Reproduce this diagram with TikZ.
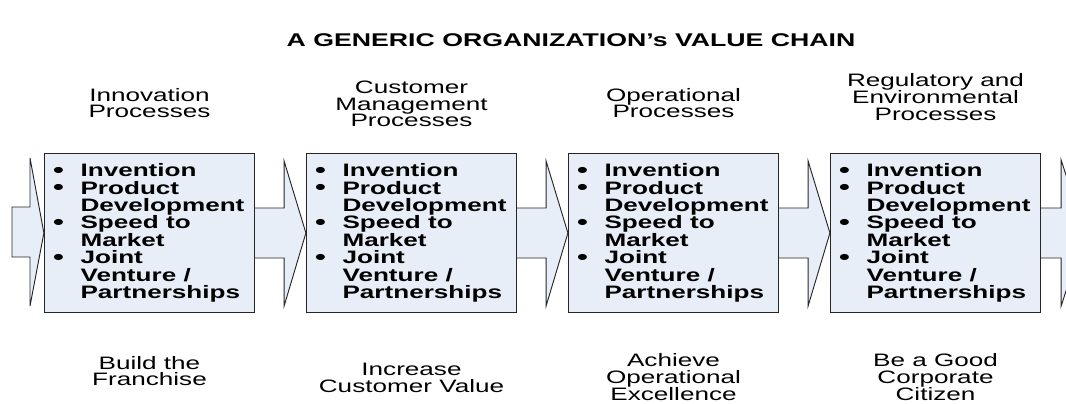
\documentclass[tikz,border=0pt]{standalone}
\usepackage{fontspec}
\setmainfont{Liberation Sans}[FakeStretch=1.45]
\usetikzlibrary{calc}
\definecolor{boxfill}{HTML}{E8EEF8}
\pgfdeclarelayer{bg}
\pgfsetlayers{bg,main}
\setlength{\lineskiplimit}{-10pt}
\newcommand\bl{\makebox[19.5pt][l]{\hspace{-1pt}\raisebox{-0.3pt}{\smash{\fontsize{16}{0}\selectfont\textbullet}}}}
\newcommand\ind{\hspace*{19.5pt}}
\newcommand\itemstext{\bl Invention\\ \bl Product\\ \ind Development\\ \bl Speed to\\ \ind Market\\ \bl Joint\\ \ind Venture /\\ \ind Partnerships}
\begin{document}
\begin{tikzpicture}[x=0.75pt,y=-0.75pt,
  box/.style={draw=black!85, line width=0.9pt, fill=boxfill, minimum width=157.5pt,
    minimum height=119.25pt, inner sep=0pt, align=left,
    font=\bfseries\fontsize{13.5}{13.05}\selectfont},
  blk/.style={draw=black!85, line width=0.7pt, fill=boxfill, line join=miter},
  lbl/.style={align=center, inner sep=0pt,
    font=\fontsize{13.5}{12.6}\selectfont},
  ttl/.style={inner sep=0pt, font=\bfseries\fontsize{13.8}{14}\selectfont}]
\useasboundingbox (0,0) rectangle (1066,403);

\node[ttl] (title) at (571,40) {A GENERIC ORGANIZATION’s VALUE CHAIN};

\node[lbl] (h1) at (149.5,103) {Innovation\\Processes};
\node[lbl] (h2) at (411.5,104) {Customer\\Management\\Processes};
\node[lbl] (h3) at (673.5,103) {Operational\\Processes};
\node[lbl] (h4) at (935.5,97) {Regulatory and\\Environmental\\Processes};

\node[box] (b1) at (149.5,233) {\itemstext};
\node[box] (b2) at (411.5,233) {\itemstext};
\node[box] (b3) at (673.5,233) {\itemstext};
\node[box] (b4) at (935.5,233) {\itemstext};

\node[lbl] (f1) at (149.5,371) {Build the\\Franchise};
\node[lbl] (f2) at (411.5,378) {Increase\\Customer Value};
\node[lbl] (f3) at (673.5,377) {Achieve\\Operational\\Excellence};
\node[lbl] (f4) at (935.5,377) {Be a Good\\Corporate\\Citizen};

\coordinate (lin) at (12,232);
\coordinate (rtip) at ($(b4.east)+(44,0)$);

\begin{pgfonlayer}{bg}
\begin{scope}
\clip (0,0) rectangle (1066,403);
\draw[blk] ($(lin)+(0,-25)$) -- ++(18,0) -- ++(0,-49) -- (b1.west)
  -- ($(lin)+(18,74)$) -- ++(0,-49) -- ++(-18,0) -- cycle;
\foreach \a/\b in {b1/b2,b2/b3,b3/b4}{
  \draw[blk] ($(\a.east)+(-2,-25)$) -- ++(31,0) -- ++(0,-47) -- (\b.west)
    -- ($(\a.east)+(29,73)$) -- ++(0,-48) -- ++(-31,0) -- cycle;
}
\draw[blk] ($(b4.east)+(-2,-25)$) -- ++(22,0) -- ++(0,-48) -- (rtip)
  -- ($(b4.east)+(20,73)$) -- ++(0,-48) -- ++(-22,0) -- cycle;
\end{scope}
\end{pgfonlayer}
\end{tikzpicture}
\end{document}
